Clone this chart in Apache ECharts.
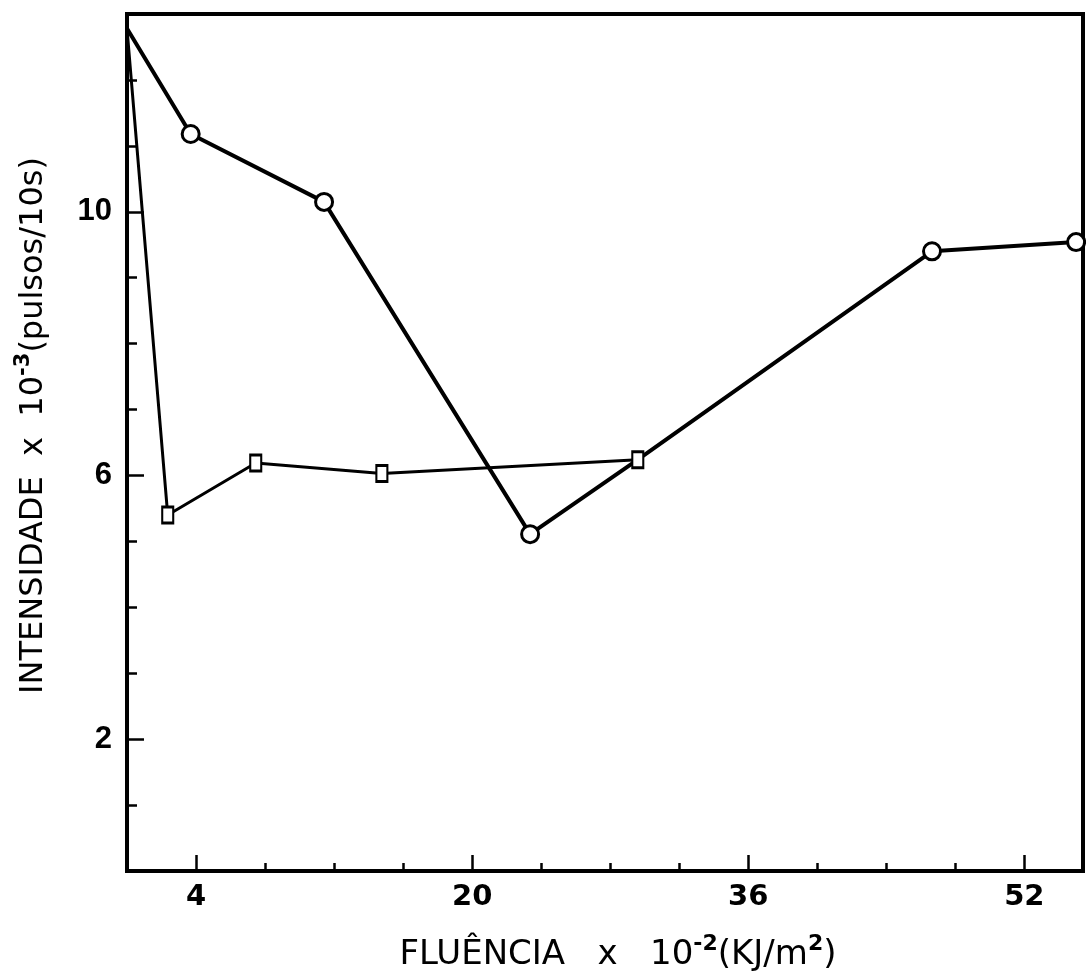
<!DOCTYPE html>
<html>
<head>
<meta charset="utf-8">
<title>Intensidade x Fluência</title>
<script src="https://cdn.jsdelivr.net/npm/echarts@6/dist/echarts.min.js"></script>
<style>
  html, body { margin: 0; padding: 0; background: #fff; }
  #chart { width: 1086px; height: 977px; }
</style>
</head>
<body>
<div id="chart"></div>
<script>
// valores (x = fluência x 10^-2 KJ/m2, y = intensidade x 10^-3)
var circuloX = [0, 3.69, 11.42, 23.36, 29.6, 46.65, 55.0];
var circuloY = [12.78, 11.18, 10.15, 5.11, 6.24, 9.40, 9.54];
var circuloMarca = [false, true, true, true, false, true, true];

var quadradoX = [0, 2.36, 7.46, 14.77, 29.6];
var quadradoY = [12.78, 5.40, 6.19, 6.03, 6.24];
var quadradoMarca = [false, true, true, true, true];

var xRotulos = [4, 20, 36, 52];
var yRotulos = [2, 6, 10];

function monta(xs, ys, marcas) {
  var out = [];
  for (var i = 0; i < xs.length; i++) {
    var p = { value: [xs[i], ys[i]] };
    if (!marcas[i]) p.symbol = 'none';
    out.push(p);
  }
  return out;
}

var fonte = 'DejaVu Sans';
var myChart = echarts.init(document.getElementById('chart'));
var option = {
  backgroundColor: '#fff',
  animation: false,
  grid: {
    left: 127, right: 3, top: 14, bottom: 106,
    show: true, borderColor: '#000', borderWidth: 4, backgroundColor: 'transparent'
  },
  xAxis: [
    {
      type: 'value', min: 0, max: 55.4, interval: 4,
      axisLine: { show: true, lineStyle: { color: '#000', width: 4 } },
      axisTick: { show: true, inside: true, length: 8, lineStyle: { color: '#000', width: 2.5 } },
      axisLabel: {
        customValues: xRotulos, margin: 12,
        color: '#000', fontFamily: fonte, fontWeight: 'bold', fontSize: 29
      },
      splitLine: { show: false },
      name: '{t|FLUÊNCIA   x   10}{s|-2}{t|(KJ/m}{s|2}{t|)}',
      nameLocation: 'middle', nameGap: 62,
      nameTextStyle: {
        padding: [0, 0, 0, 26],
        rich: {
          t: { fontFamily: fonte, fontSize: 34, color: '#000', lineHeight: 44 },
          s: { fontFamily: fonte, fontSize: 22, fontWeight: 'bold', color: '#000', lineHeight: 44, verticalAlign: 'top' }
        }
      }
    },
    {
      type: 'value', min: 0, max: 55.4, position: 'bottom',
      axisLine: { show: false },
      axisTick: { show: true, inside: true, length: 16, customValues: xRotulos, lineStyle: { color: '#000', width: 2.5 } },
      axisLabel: { show: false },
      splitLine: { show: false }
    }
  ],
  yAxis: [
    {
      type: 'value', min: 0, max: 13, interval: 1,
      axisLine: { show: true, lineStyle: { color: '#000', width: 4 } },
      axisTick: { show: true, inside: true, length: 10, lineStyle: { color: '#000', width: 2.5 } },
      axisLabel: {
        customValues: yRotulos, margin: 15,
        color: '#000', fontFamily: 'Liberation Sans', fontWeight: 'bold', fontSize: 31
      },
      splitLine: { show: false },
      name: '{t|INTENSIDADE  x  10}{s|-3}{t|(pulsos/10s)}',
      nameLocation: 'middle', nameGap: 72,
      nameTextStyle: {
        padding: [0, 0, 0, 34],
        rich: {
          t: { fontFamily: fonte, fontSize: 32, color: '#000', lineHeight: 42 },
          s: { fontFamily: fonte, fontSize: 21, fontWeight: 'bold', color: '#000', lineHeight: 42, verticalAlign: 'top' }
        }
      }
    },
    {
      type: 'value', min: 0, max: 13, position: 'left',
      axisLine: { show: false },
      axisTick: { show: true, inside: true, length: 17, customValues: yRotulos, lineStyle: { color: '#000', width: 2.5 } },
      axisLabel: { show: false },
      splitLine: { show: false }
    }
  ],
  series: [
    {
      name: 'circulos', type: 'line', xAxisIndex: 0, yAxisIndex: 0,
      data: monta(circuloX, circuloY, circuloMarca),
      symbol: 'circle', symbolSize: 17,
      itemStyle: { color: '#fff', borderColor: '#000', borderWidth: 3 },
      lineStyle: { color: '#000', width: 4 },
      z: 3
    },
    {
      name: 'quadrados', type: 'line', xAxisIndex: 0, yAxisIndex: 0,
      data: monta(quadradoX, quadradoY, quadradoMarca),
      symbol: 'rect', symbolSize: [11, 16],
      itemStyle: { color: '#fff', borderColor: '#000', borderWidth: 2.5 },
      lineStyle: { color: '#000', width: 3 },
      z: 4
    }
  ]
};
myChart.setOption(option);
</script>
</body>
</html>
